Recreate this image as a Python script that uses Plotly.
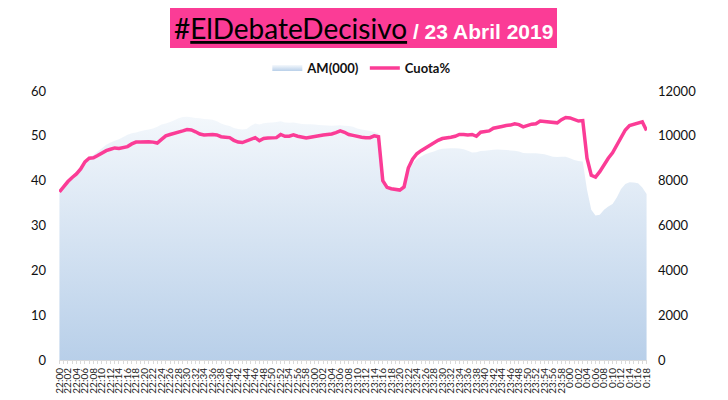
import plotly.graph_objects as go

# ---- data ----
start_h, start_m = 22, 0
n_points = 139
times = []
for k in range(n_points):
    tot = start_h * 60 + start_m + k
    h = (tot // 60) % 24
    m = tot % 60
    times.append(f"{h}:{m:02d}")

cuota = [
    37.5, 38.8, 39.8, 40.7, 41.5, 42.6, 44.2, 45.0, 45.1, 45.6,
    46.2, 46.7, 47.0, 47.3, 47.2, 47.4, 47.6, 48.2, 48.6, 48.6,
    48.7, 48.7, 48.6, 48.4, 49.2, 50.0, 50.3, 50.5, 50.8, 51.1,
    51.4, 51.3, 50.9, 50.4, 50.2, 50.3, 50.3, 50.2, 49.8, 49.7,
    49.6, 49.0, 48.6, 48.5, 48.8, 49.3, 49.6, 48.9, 49.4, 49.5,
    49.5, 49.6, 50.3, 49.9, 49.9, 50.2, 49.9, 49.6, 49.5, 49.7,
    49.9, 50.1, 50.2, 50.3, 50.4, 50.7, 51.1, 50.8, 50.3, 50.1,
    49.8, 49.7, 49.6, 49.6, 50.0, 49.8, 40.0, 38.5, 38.2, 38.0,
    37.9, 38.6, 42.8, 44.8, 46.0, 46.7, 47.3, 47.8, 48.3, 49.0,
    49.4, 49.5, 49.7, 49.9, 50.3, 50.3, 50.2, 50.3, 49.9, 50.8,
    51.0, 51.1, 51.7, 52.0, 52.1, 52.3, 52.4, 52.7, 52.5, 52.0,
    52.4, 52.6, 52.7, 53.3, 53.2, 53.1, 53.0, 52.9, 53.6, 54.1,
    54.0, 53.6, 53.3, 53.4, 45.0, 41.2, 40.8, 42.0, 43.6, 45.0,
    46.2, 48.0, 49.7, 51.3, 52.3, 52.6, 52.7, 53.1, 51.2,
]

am = [
    7500, 7750, 7950, 8150, 8350, 8650, 8900, 9050, 9150, 9300,
    9450, 9600, 9700, 9780, 9850, 9950, 10050, 10120, 10150, 10200,
    10250, 10280, 10330, 10400, 10500, 10550, 10620, 10700, 10780, 10840,
    10850, 10830, 10800, 10780, 10750, 10740, 10720, 10650, 10550, 10480,
    10440, 10350, 10300, 10280, 10300, 10450, 10550, 10500, 10560, 10580,
    10600, 10620, 10650, 10600, 10580, 10590, 10560, 10530, 10520, 10520,
    10500, 10480, 10470, 10460, 10450, 10460, 10470, 10450, 10440, 10400,
    10330, 10280, 10250, 10220, 10170, 10100, 8000, 7700, 7640, 7620,
    7600, 7700, 8400, 8750, 8950, 9080, 9180, 9240, 9300, 9380,
    9420, 9440, 9450, 9450, 9440, 9400, 9330, 9260, 9270, 9320,
    9340, 9360, 9380, 9390, 9380, 9370, 9350, 9330, 9300, 9230,
    9220, 9220, 9220, 9200, 9180, 9120, 9070, 9060, 9070, 9070,
    9000, 8920, 8880, 8860, 7600, 6700, 6450, 6480, 6700, 6850,
    6960, 7250, 7630, 7850, 7930, 7920, 7890, 7700, 7400,
]

tick_text = [t if i % 2 == 0 else "" for i, t in enumerate(times)]

PINK = "#fb3c96"
FONT = "Lato, 'DejaVu Sans', sans-serif"

# the page body adds an 8px offset, so the figure is 8px smaller than the window
W, H = 720, 392
L, T, PW, PH = 51, 83, 588, 269

fig = go.Figure()

fig.add_trace(go.Scatter(
    x=times, y=am, name="AM(000)", mode="none",
    fill="tozeroy", fillcolor="#cfdff0",
    fillgradient=dict(type="vertical", start=0, stop=11000,
                      colorscale=[[0, "#b8cfe9"], [1, "#f4f8fc"]]),
    yaxis="y", hoverinfo="skip",
))
fig.add_trace(go.Scatter(
    x=times, y=cuota, name="Cuota%", mode="lines",
    line=dict(color=PINK, width=3.5),
    yaxis="y2",
))

fig.update_layout(
    width=W, height=H,
    margin=dict(l=L, r=W - L - PW, t=T, b=H - T - PH, autoexpand=False),
    paper_bgcolor="white", plot_bgcolor="white",
    font=dict(family=FONT, color="#111111", size=13),
    showlegend=True,
    legend=dict(orientation="h", x=0.515, xanchor="center", y=1.085, yanchor="middle",
                font=dict(family=FONT, size=13, color="#111111", weight="bold"),
                itemwidth=30, traceorder="normal"),
    xaxis=dict(type="category", tickmode="array", tickvals=times, ticktext=tick_text,
               tickangle=-90, tickfont=dict(size=10, color="#222222"),
               ticks="outside", ticklen=3, tickcolor="#d9d9d9",
               showline=True, linecolor="#d9d9d9", showgrid=False, zeroline=False,
               range=[-0.1, n_points - 0.9], automargin=False),
    yaxis=dict(side="right", range=[0, 12000], dtick=2000, tickformat="d", showgrid=False,
               zeroline=False, showline=False, ticks="", ticklabelstandoff=10,
               tickfont=dict(size=13), automargin=False),
    yaxis2=dict(side="left", overlaying="y", range=[0, 60], dtick=10, showgrid=False,
                zeroline=False, showline=False, ticks="", ticklabelstandoff=12,
                tickfont=dict(size=13), automargin=False),
)

# title banner (positions in window pixels converted to paper coords)
def px_x(x):
    return (x - 8 - L) / PW

def px_y(y):
    return 1 + (T - (y - 8)) / PH

fig.add_shape(type="rect", xref="paper", yref="paper",
              x0=px_x(170), x1=px_x(557), y0=px_y(48), y1=px_y(7),
              fillcolor=PINK, line=dict(width=0), layer="above")
fig.add_annotation(
    xref="paper", yref="paper", x=px_x(363.5), y=px_y(28),
    xanchor="center", yanchor="middle", showarrow=False,
    text=('<span style="color:#000000;font-family:Lato;font-size:28px">#<u>ElDebateDecisivo</u></span>'
          '<span style="color:#ffffff;font-family:\'Liberation Sans Narrow\', \'Liberation Sans\';'
          'font-weight:bold;font-size:21px"> / 23 Abril 2019</span>'),
)

fig.write_html("out.html")
